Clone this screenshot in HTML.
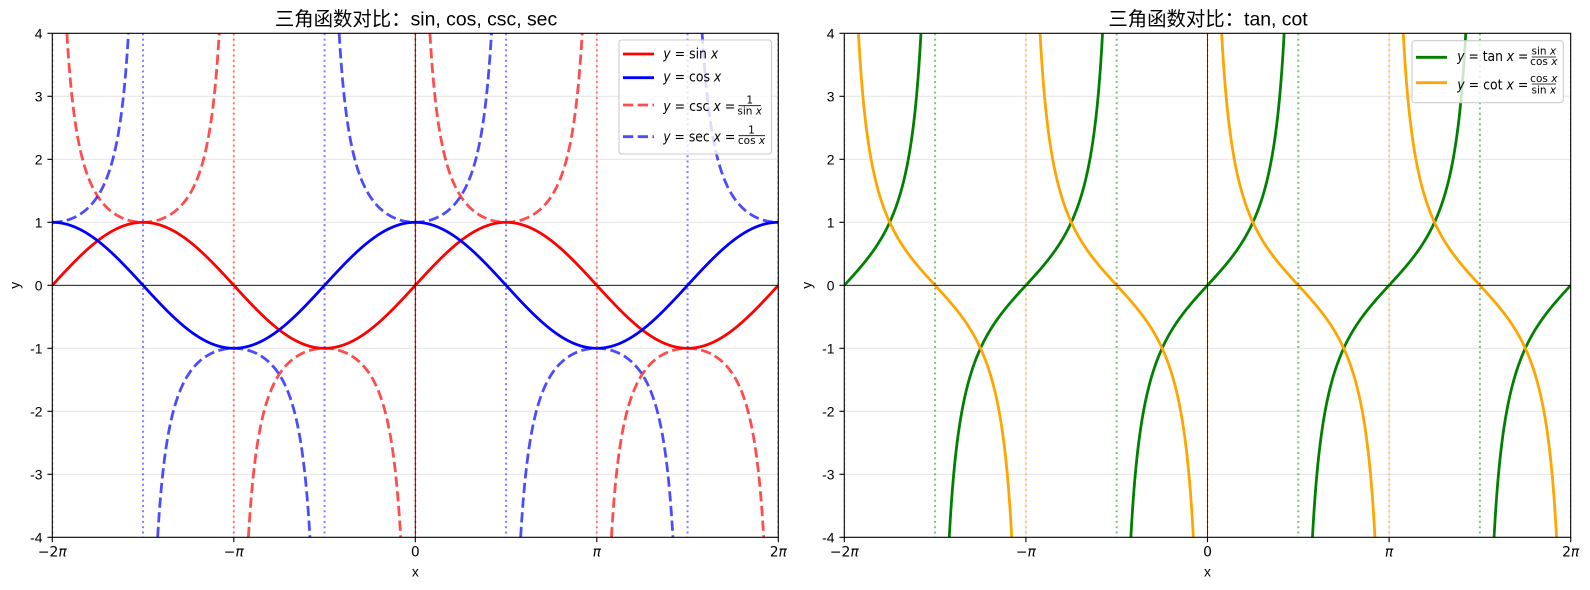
<!DOCTYPE html>
<html><head><meta charset="utf-8">
<style>
html,body{margin:0;padding:0;background:#fff;width:1590px;height:590px;overflow:hidden;}
svg{display:block;position:absolute;left:0;top:0;}
.t{font-family:"Liberation Sans","Noto Sans CJK SC",sans-serif;}
.m{font-family:"DejaVu Sans","Liberation Sans",sans-serif;}
.i{font-style:italic;}
</style></head>
<body>
<svg id="fig" xmlns="http://www.w3.org/2000/svg" width="1590" height="590" viewBox="0 0 1590 590" overflow="hidden">
<defs>
<clipPath id="cl"><rect x="52.3" y="33.3" width="726" height="504"/></clipPath>
<clipPath id="cr"><rect x="844.3" y="33.3" width="726.4" height="504"/></clipPath>
</defs>
<rect width="1590" height="590" fill="#fff"/>

<!-- grids -->
<g stroke="#b0b0b0" stroke-opacity="0.3" stroke-width="1.1">
<line x1="52.3" x2="778.3" y1="96.3" y2="96.3"/><line x1="52.3" x2="778.3" y1="159.3" y2="159.3"/><line x1="52.3" x2="778.3" y1="222.3" y2="222.3"/><line x1="52.3" x2="778.3" y1="285.3" y2="285.3"/><line x1="52.3" x2="778.3" y1="348.3" y2="348.3"/><line x1="52.3" x2="778.3" y1="411.3" y2="411.3"/><line x1="52.3" x2="778.3" y1="474.3" y2="474.3"/>
<line x1="233.8" x2="233.8" y1="33.3" y2="537.3"/><line x1="415.3" x2="415.3" y1="33.3" y2="537.3"/><line x1="596.8" x2="596.8" y1="33.3" y2="537.3"/>
<line x1="844.3" x2="1570.7" y1="96.3" y2="96.3"/><line x1="844.3" x2="1570.7" y1="159.3" y2="159.3"/><line x1="844.3" x2="1570.7" y1="222.3" y2="222.3"/><line x1="844.3" x2="1570.7" y1="285.3" y2="285.3"/><line x1="844.3" x2="1570.7" y1="348.3" y2="348.3"/><line x1="844.3" x2="1570.7" y1="411.3" y2="411.3"/><line x1="844.3" x2="1570.7" y1="474.3" y2="474.3"/>
<line x1="1025.9" x2="1025.9" y1="33.3" y2="537.3"/><line x1="1207.5" x2="1207.5" y1="33.3" y2="537.3"/><line x1="1389.1" x2="1389.1" y1="33.3" y2="537.3"/>
</g>

<g id="gl" clip-path="url(#cl)"></g>
<g id="gr" clip-path="url(#cr)"></g>

<!-- spines -->
<rect x="52.3" y="33.3" width="726" height="504" fill="none" stroke="#000" stroke-width="1.1"/>
<rect x="844.3" y="33.3" width="726.4" height="504" fill="none" stroke="#000" stroke-width="1.1"/>

<!-- ticks -->
<g stroke="#000" stroke-width="1.1">
<line x1="47.4" x2="52.3" y1="33.3" y2="33.3"/><line x1="47.4" x2="52.3" y1="96.3" y2="96.3"/><line x1="47.4" x2="52.3" y1="159.3" y2="159.3"/><line x1="47.4" x2="52.3" y1="222.3" y2="222.3"/><line x1="47.4" x2="52.3" y1="285.3" y2="285.3"/><line x1="47.4" x2="52.3" y1="348.3" y2="348.3"/><line x1="47.4" x2="52.3" y1="411.3" y2="411.3"/><line x1="47.4" x2="52.3" y1="474.3" y2="474.3"/><line x1="47.4" x2="52.3" y1="537.3" y2="537.3"/>
<line x1="52.3" x2="52.3" y1="537.3" y2="542.2"/><line x1="233.8" x2="233.8" y1="537.3" y2="542.2"/><line x1="415.3" x2="415.3" y1="537.3" y2="542.2"/><line x1="596.8" x2="596.8" y1="537.3" y2="542.2"/><line x1="778.3" x2="778.3" y1="537.3" y2="542.2"/>
<line x1="839.4" x2="844.3" y1="33.3" y2="33.3"/><line x1="839.4" x2="844.3" y1="96.3" y2="96.3"/><line x1="839.4" x2="844.3" y1="159.3" y2="159.3"/><line x1="839.4" x2="844.3" y1="222.3" y2="222.3"/><line x1="839.4" x2="844.3" y1="285.3" y2="285.3"/><line x1="839.4" x2="844.3" y1="348.3" y2="348.3"/><line x1="839.4" x2="844.3" y1="411.3" y2="411.3"/><line x1="839.4" x2="844.3" y1="474.3" y2="474.3"/><line x1="839.4" x2="844.3" y1="537.3" y2="537.3"/>
<line x1="844.3" x2="844.3" y1="537.3" y2="542.2"/><line x1="1025.9" x2="1025.9" y1="537.3" y2="542.2"/><line x1="1207.5" x2="1207.5" y1="537.3" y2="542.2"/><line x1="1389.1" x2="1389.1" y1="537.3" y2="542.2"/><line x1="1570.7" x2="1570.7" y1="537.3" y2="542.2"/>
</g>

<!-- y tick labels -->
<g class="t" font-size="13.9" text-anchor="end" fill="#000">
<text x="42.5" y="38.3">4</text><text x="42.5" y="101.3">3</text><text x="42.5" y="164.3">2</text><text x="42.5" y="227.3">1</text><text x="42.5" y="290.3">0</text><text x="42.5" y="353.3">-1</text><text x="42.5" y="416.3">-2</text><text x="42.5" y="479.3">-3</text><text x="42.5" y="542.3">-4</text>
<text x="834.5" y="38.3">4</text><text x="834.5" y="101.3">3</text><text x="834.5" y="164.3">2</text><text x="834.5" y="227.3">1</text><text x="834.5" y="290.3">0</text><text x="834.5" y="353.3">-1</text><text x="834.5" y="416.3">-2</text><text x="834.5" y="479.3">-3</text><text x="834.5" y="542.3">-4</text>
</g>

<!-- x tick labels -->
<g class="m" font-size="13.9" text-anchor="middle" fill="#000">
<text x="52.3" y="556.6">−2<tspan class="i">π</tspan></text>
<text x="233.8" y="556.6">−<tspan class="i">π</tspan></text>
<text x="415.3" y="556.6">0</text>
<text x="596.8" y="556.6"><tspan class="i">π</tspan></text>
<text x="778.3" y="556.6">2<tspan class="i">π</tspan></text>
<text x="844.3" y="556.6">−2<tspan class="i">π</tspan></text>
<text x="1025.9" y="556.6">−<tspan class="i">π</tspan></text>
<text x="1207.5" y="556.6">0</text>
<text x="1389.1" y="556.6"><tspan class="i">π</tspan></text>
<text x="1570.7" y="556.6">2<tspan class="i">π</tspan></text>
</g>

<!-- axis labels -->
<g class="t" font-size="13.9" text-anchor="middle" fill="#000">
<text x="415.3" y="576.5">x</text>
<text x="1207.5" y="576.5">x</text>
<text transform="translate(19.5,285.3) rotate(-90)" x="0" y="0">y</text>
<text transform="translate(811.5,285.3) rotate(-90)" x="0" y="0">y</text>
</g>

<!-- titles -->
<text class="t" x="416" y="25.3" font-size="19.4" text-anchor="middle" fill="#000">三角函数对比：sin, cos, csc, sec</text>
<text class="t" x="1208" y="25.3" font-size="19.4" text-anchor="middle" fill="#000">三角函数对比：tan, cot</text>

<!-- legend left -->
<rect x="619" y="40" width="152.5" height="114" rx="2.8" ry="2.8" fill="#fff" fill-opacity="0.8" stroke="#cccccc" stroke-width="1.1"/>
<g fill="none" stroke-width="2.78">
<line x1="623" x2="654" y1="54" y2="54" stroke="#ff0000"/>
<line x1="623" x2="654" y1="77.7" y2="77.7" stroke="#0000ff"/>
<line x1="623" x2="654" y1="105" y2="105" stroke="#ff0000" stroke-opacity="0.7" stroke-dasharray="10.28 4.44"/>
<line x1="623" x2="654" y1="136.7" y2="136.7" stroke="#0000ff" stroke-opacity="0.7" stroke-dasharray="10.28 4.44"/>
</g>
<g class="m" font-size="14.5" fill="#000">
<text x="663.3" y="58.3" textLength="55" lengthAdjust="spacingAndGlyphs"><tspan class="i">y</tspan> = sin <tspan class="i">x</tspan></text>
<text x="663.3" y="81.7" textLength="58" lengthAdjust="spacingAndGlyphs"><tspan class="i">y</tspan> = cos <tspan class="i">x</tspan></text>
<text x="663.3" y="111" textLength="72" lengthAdjust="spacingAndGlyphs"><tspan class="i">y</tspan> = csc <tspan class="i">x</tspan> =</text>
<text x="663.3" y="141.7" textLength="72" lengthAdjust="spacingAndGlyphs"><tspan class="i">y</tspan> = sec <tspan class="i">x</tspan> =</text>
</g>
<g class="m" font-size="10.5" fill="#000" text-anchor="middle">
<text x="749.7" y="103.3">1</text>
<line x1="738.5" x2="761" y1="105.7" y2="105.7" stroke="#000" stroke-width="0.8"/>
<text x="749.7" y="114.3">sin <tspan class="i">x</tspan></text>
<text x="751.5" y="133.6">1</text>
<line x1="738.5" x2="765" y1="135.7" y2="135.7" stroke="#000" stroke-width="0.8"/>
<text x="751.5" y="143.8">cos <tspan class="i">x</tspan></text>
</g>

<!-- legend right -->
<rect x="1412" y="40.7" width="151.3" height="62" rx="2.8" ry="2.8" fill="#fff" fill-opacity="0.8" stroke="#cccccc" stroke-width="1.1"/>
<g fill="none" stroke-width="2.78">
<line x1="1416" x2="1447" y1="57.3" y2="57.3" stroke="#008000"/>
<line x1="1416" x2="1447" y1="82.7" y2="82.7" stroke="#ffa500"/>
</g>
<g class="m" font-size="14.5" fill="#000">
<text x="1457.3" y="61" textLength="71" lengthAdjust="spacingAndGlyphs"><tspan class="i">y</tspan> = tan <tspan class="i">x</tspan> =</text>
<text x="1457.3" y="89.5" textLength="71" lengthAdjust="spacingAndGlyphs"><tspan class="i">y</tspan> = cot <tspan class="i">x</tspan> =</text>
</g>
<g class="m" font-size="10.5" fill="#000" text-anchor="middle">
<text x="1543.8" y="54.7">sin <tspan class="i">x</tspan></text>
<line x1="1531.7" x2="1556" y1="57" y2="57" stroke="#000" stroke-width="0.8"/>
<text x="1543.8" y="64.8">cos <tspan class="i">x</tspan></text>
<text x="1543.8" y="82">cos <tspan class="i">x</tspan></text>
<line x1="1531.7" x2="1556" y1="84" y2="84" stroke="#000" stroke-width="0.8"/>
<text x="1543.8" y="93.3">sin <tspan class="i">x</tspan></text>
</g>
</svg>
<script>
(function(){
var NS="http://www.w3.org/2000/svg", P=Math.PI;
function mk(x0,x1){return {X:function(x){return x0+(x+2*P)*(x1-x0)/(4*P);},Y:function(y){return 33.3+(4-y)*63;}};}
function curve(f,m,lim){
  var d='',pen=false,N=4000;
  for(var i=0;i<=N;i++){
    var x=-2*P+4*P*i/N, y=f(x);
    if(!isFinite(y)||Math.abs(y)>lim){pen=false;continue;}
    var yc=Math.max(-5,Math.min(5,y));
    d+=(pen?'L':'M')+m.X(x).toFixed(2)+','+m.Y(yc).toFixed(2);
    pen=true;
  }
  return d;
}
function add(g,attrs){
  var e=document.createElementNS(NS,attrs.tag||'path');
  for(var k in attrs){if(k!=='tag')e.setAttribute(k,attrs[k]);}
  g.appendChild(e);
}
function vline(g,m,x,color,op){
  var X=m.X(x);
  add(g,{tag:'line',x1:X,x2:X,y1:33.3,y2:537.3,stroke:color,'stroke-opacity':op,'stroke-width':2,'stroke-dasharray':'2 3.3',fill:'none'});
}
var L=mk(52.3,778.3), R=mk(844.3,1570.7);
var gl=document.getElementById('gl'), gr=document.getElementById('gr');
var dash='10.28 4.44';
add(gl,{d:curve(Math.sin,L,1e9),stroke:'#ff0000','stroke-width':2.78,fill:'none','stroke-linejoin':'round'});
add(gl,{d:curve(Math.cos,L,1e9),stroke:'#0000ff','stroke-width':2.78,fill:'none','stroke-linejoin':'round'});
add(gl,{d:curve(function(x){return 1/Math.sin(x);},L,50),stroke:'#ff0000','stroke-opacity':0.7,'stroke-width':2.78,fill:'none','stroke-dasharray':dash});
add(gl,{d:curve(function(x){return 1/Math.cos(x);},L,50),stroke:'#0000ff','stroke-opacity':0.7,'stroke-width':2.78,fill:'none','stroke-dasharray':dash});
[-2,-1,0,1,2].forEach(function(k){vline(gl,L,k*P,'#ff0000',0.5);});
[-1.5,-0.5,0.5,1.5].forEach(function(k){vline(gl,L,k*P,'#0000ff',0.5);});
add(gl,{tag:'line',x1:52.3,x2:778.3,y1:285.3,y2:285.3,stroke:'#000','stroke-width':0.8});
add(gl,{tag:'line',x1:415.3,x2:415.3,y1:33.3,y2:537.3,stroke:'#000','stroke-width':0.8});
add(gr,{d:curve(Math.tan,R,50),stroke:'#008000','stroke-width':2.78,fill:'none','stroke-linejoin':'round'});
add(gr,{d:curve(function(x){return 1/Math.tan(x);},R,50),stroke:'#ffa500','stroke-width':2.78,fill:'none','stroke-linejoin':'round'});
[-1.5,-0.5,0.5,1.5].forEach(function(k){vline(gr,R,k*P,'#008000',0.5);});
[-2,-1,0,1,2].forEach(function(k){vline(gr,R,k*P,'#ffa500',0.5);});
add(gr,{tag:'line',x1:844.3,x2:1570.7,y1:285.3,y2:285.3,stroke:'#000','stroke-width':0.8});
add(gr,{tag:'line',x1:1207.5,x2:1207.5,y1:33.3,y2:537.3,stroke:'#000','stroke-width':0.8});
})();
</script>
</body></html>
